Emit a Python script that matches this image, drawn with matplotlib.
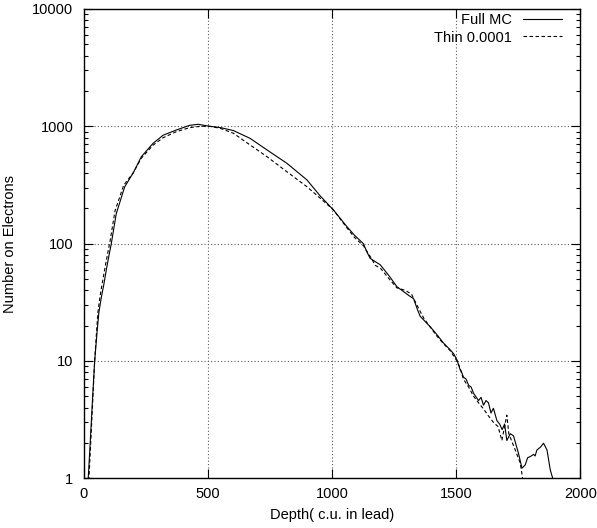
import numpy as np
import matplotlib
matplotlib.use('Agg')
import matplotlib.pyplot as plt
from matplotlib.ticker import LogLocator, NullFormatter, FixedLocator

plt.rcParams['font.family'] = ['Liberation Sans', 'DejaVu Sans']
plt.rcParams['font.size'] = 10.5

# Full MC (solid)
full_x = [15, 17, 25, 35, 43, 52, 60, 70, 80, 90, 100, 110, 130, 164, 198, 231, 278,
          319, 372, 426, 460, 507, 550, 602, 669, 737, 817, 898, 952, 1005, 1059,
          1090, 1126, 1140, 1153, 1175, 1194, 1230, 1261, 1295, 1310, 1328, 1345, 1355,
          1395, 1420, 1449, 1475, 1490, 1503, 1510, 1515, 1522, 1529, 1540, 1550,
          1560, 1570, 1590, 1600, 1610, 1620, 1630, 1640, 1650, 1664, 1675, 1685,
          1695, 1704, 1718, 1731, 1751, 1765, 1778, 1788, 1798, 1812, 1818, 1825,
          1840, 1852, 1866, 1879, 1892]
full_y = [0.85, 1, 2, 5, 10, 17, 26, 35, 45, 60, 78, 100, 180, 305, 400, 550, 715,
          840, 930, 1020, 1040, 1000, 975, 920, 790, 630, 485, 350, 255, 194, 140,
          118, 100, 85, 75, 70, 66, 53, 43, 38, 36, 34, 27, 24,
          19.6, 17, 14.2, 12.5, 11.5, 10.2, 9.2, 8.5, 8.0, 7.3, 7.0, 6.2,
          6.0, 5.3, 4.6, 4.9, 4.2, 4.6, 4.4, 3.6, 3.95, 3.1, 2.9, 2.6,
          2.9, 2.1, 2.4, 2.3, 1.63, 1.22, 1.3, 1.5, 1.53, 1.6, 1.55, 1.74,
          1.85, 1.99, 1.74, 1.18, 0.95]

# Thin 0.0001 (dashed)
thin_x = [18, 20, 27, 36, 43, 50, 56, 65, 75, 85, 95, 105, 125, 160, 198, 231, 278,
          319, 372, 426, 470, 507, 550, 602, 669, 737, 817, 898, 952, 1005, 1059,
          1090, 1126, 1153, 1175, 1194, 1230, 1261, 1295, 1320, 1345, 1370, 1395,
          1420, 1449, 1475, 1503, 1515, 1529, 1550, 1570, 1590, 1610, 1630, 1650,
          1669, 1684, 1704, 1712, 1738, 1758, 1771]
thin_y = [0.85, 1, 2, 5, 10, 17, 26, 36, 48, 63, 82, 105, 190, 315, 400, 535, 690,
          800, 900, 975, 1000, 1000, 960, 873, 694, 552, 411, 306, 244, 194, 137,
          113, 96, 78, 65, 62, 50, 42, 40, 37, 29, 23, 19.5,
          16.5, 14, 12.3, 10, 8.8, 7, 6, 5, 4.4, 3.9, 3.4, 3.0,
          2.75, 2.1, 3.46, 2.4, 1.74, 1.35, 0.9]

fig = plt.figure(figsize=(5.97, 5.28), dpi=100)
ax = fig.add_axes([0.1407, 0.0941, 0.972 - 0.1407, 0.983 - 0.0941])

ax.plot(full_x, full_y, color='black', lw=0.8, label='Full MC')
ax.plot(thin_x, thin_y, color='black', lw=0.8, dashes=(3.2, 2.2), label='Thin 0.0001')

ax.set_yscale('log')
ax.set_xlim(0, 2000)
ax.set_ylim(1, 10000)
ax.xaxis.set_major_locator(FixedLocator([0, 500, 1000, 1500, 2000]))
ax.yaxis.set_major_locator(FixedLocator([1, 10, 100, 1000, 10000]))
ax.yaxis.set_major_formatter(plt.FuncFormatter(lambda v, p: '%d' % round(v)))
ax.yaxis.set_minor_locator(LogLocator(base=10, subs=np.arange(2, 10)))
ax.yaxis.set_minor_formatter(NullFormatter())

ax.tick_params(which='both', direction='in', top=True, right=True, color='black')
ax.tick_params(which='major', length=6.5, width=0.8, pad=6)
ax.tick_params(axis='y', which='major', pad=7.6)
ax.tick_params(which='minor', length=3.2, width=0.8)

for v in [500, 1000, 1500]:
    ax.axvline(v, color='0.35', lw=0.8, ls=(0, (1, 2)), zorder=0)
for v in [10, 100, 1000]:
    ax.axhline(v, color='0.35', lw=0.8, ls=(0, (1, 2)), zorder=0)

for s in ax.spines.values():
    s.set_linewidth(1.0)

ax.set_xlabel('Depth( c.u. in lead)', labelpad=5)
ax.set_ylabel('Number on Electrons', labelpad=11)

ax.legend(loc='upper right', bbox_to_anchor=(0.974, 1.004), frameon=False,
          markerfirst=False, handlelength=2.65, handletextpad=0.77,
          labelspacing=0.25, borderaxespad=0)

fig.savefig('out.png', dpi=100)
